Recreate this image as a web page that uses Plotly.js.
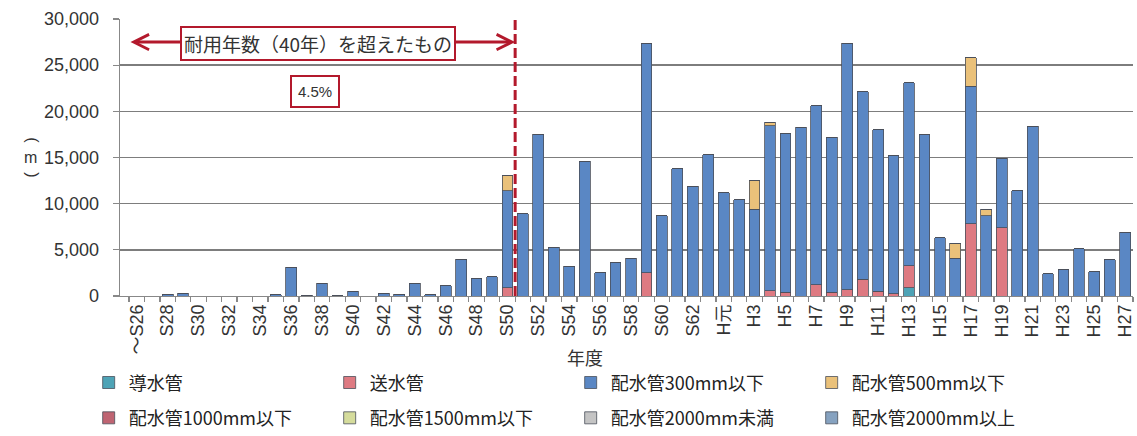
<!DOCTYPE html>
<html lang="ja">
<head>
<meta charset="utf-8">
<script src="https://cdn.plot.ly/plotly-3.0.1.min.js"></script>
<style>
  html, body { margin: 0; padding: 0; background: #ffffff; }
  #chart { width: 1137px; height: 436px; }
</style>
</head>
<body>
<div id="chart"></div>
<script>
// 布設年度（昭和26年以前〜平成27年）
const categories = [
  '～S26','S27','S28','S29','S30','S31','S32','S33','S34','S35',
  'S36','S37','S38','S39','S40','S41','S42','S43','S44','S45',
  'S46','S47','S48','S49','S50','S51','S52','S53','S54','S55',
  'S56','S57','S58','S59','S60','S61','S62','S63','H元','H2',
  'H3','H4','H5','H6','H7','H8','H9','H10','H11','H12',
  'H13','H14','H15','H16','H17','H18','H19','H20','H21','H22',
  'H23','H24','H25','H26','H27'
];

// 管種別の延長（m）
const doSuikan = [
  0,0,0,0,0,0,0,0,0,0,
  0,0,0,0,0,0,0,0,0,0,
  0,0,0,0,0,0,0,0,0,0,
  0,0,0,0,0,0,0,0,0,0,
  0,0,0,0,0,0,0,0,0,0,
  900,0,0,0,0,0,0,0,0,0,
  0,0,0,0,0
];
const soSuikan = [
  0,0,0,0,0,0,0,0,0,0,
  0,0,0,0,0,0,0,0,0,0,
  0,0,0,0,900,0,0,0,0,0,
  0,0,0,2500,0,0,0,0,0,0,
  0,550,400,0,1200,400,700,1800,500,250,
  2350,0,0,0,7800,0,7400,0,0,0,
  0,0,0,0,0
];
const haisui300 = [
  0,0,200,300,0,0,0,0,0,150,
  3100,100,1400,100,500,0,300,200,1400,150,
  1100,4000,1900,2100,10500,8900,17500,5300,3200,14600,
  2500,3600,4100,24800,8700,13800,11900,15300,11200,10400,
  9400,17900,17200,18300,19400,16800,26700,20300,17500,14950,
  19850,17500,6300,4100,14900,8700,7500,11400,18400,2400,
  2900,5100,2600,3900,6900
];
const haisui500 = [
  0,0,0,0,0,0,0,0,0,0,
  0,0,0,0,0,0,0,0,0,0,
  0,0,0,0,1600,0,0,0,0,0,
  0,0,0,0,0,0,0,0,0,0,
  3100,350,0,0,0,0,0,0,0,0,
  0,0,0,1600,3100,700,0,0,0,0,
  0,0,0,0,0
];
const haisui1000 = [
  0,0,0,0,0,0,0,0,0,0,
  0,0,0,0,0,0,0,0,0,0,
  0,0,0,0,0,0,0,0,0,0,
  0,0,0,0,0,0,0,0,0,0,
  0,0,0,0,0,0,0,0,0,0,
  0,0,0,0,0,0,0,0,0,0,
  0,0,0,0,0
];
const haisui1500 = [
  0,0,0,0,0,0,0,0,0,0,
  0,0,0,0,0,0,0,0,0,0,
  0,0,0,0,0,0,0,0,0,0,
  0,0,0,0,0,0,0,0,0,0,
  0,0,0,0,0,0,0,0,0,0,
  0,0,0,0,0,0,0,0,0,0,
  0,0,0,0,0
];
const haisui2000Under = [
  0,0,0,0,0,0,0,0,0,0,
  0,0,0,0,0,0,0,0,0,0,
  0,0,0,0,0,0,0,0,0,0,
  0,0,0,0,0,0,0,0,0,0,
  0,0,0,0,0,0,0,0,0,0,
  0,0,0,0,0,0,0,0,0,0,
  0,0,0,0,0
];
const haisui2000Over = [
  0,0,0,0,0,0,0,0,0,0,
  0,0,0,0,0,0,0,0,0,0,
  0,0,0,0,0,0,0,0,0,0,
  0,0,0,0,0,0,0,0,0,0,
  0,0,0,0,0,0,0,0,0,0,
  0,0,0,0,0,0,0,0,0,0,
  0,0,0,0,0
];

const seriesNames = [
  '導水管', '送水管', '配水管300mm以下', '配水管500mm以下',
  '配水管1000mm以下', '配水管1500mm以下', '配水管2000mm未満', '配水管2000mm以上'
];
const seriesValues = [
  doSuikan, soSuikan, haisui300, haisui500,
  haisui1000, haisui1500, haisui2000Under, haisui2000Over
];
const seriesColors = [
  '#4ea3b6', '#de7a82', '#5a87c4', '#eac17a',
  '#bf6472', '#d5dc9c', '#c4c4c4', '#86a2c0'
];

// 耐用年数（40年）の境目：S50 と S51 の間
const limitPos = categories.indexOf('S50') + 0.5;

// 一つおきに目盛りラベルを表示
const tickLabels = categories.map((c, i) => (i % 2 === 0 ? c : ''));

const FONT_LATIN = 'Liberation Sans, Noto Sans CJK JP, sans-serif';
const FONT_JP = 'Noto Sans CJK JP, Liberation Sans, sans-serif';
const RED = '#b3192c';

const traces = seriesNames.map((name, i) => ({
  type: 'bar',
  name: name,
  x: categories,
  y: seriesValues[i],
  marker: { color: seriesColors[i], line: { color: '#4a4f5a', width: 0.8 } },
  legend: i < 4 ? 'legend' : 'legend2',
  hoverinfo: 'x+y+name'
}));

const legendBase = {
  orientation: 'h',
  traceorder: 'normal',
  xref: 'container', yref: 'container',
  x: 0.078, xanchor: 'left', yanchor: 'middle',
  entrywidth: 196, entrywidthmode: 'pixels',
  font: { family: FONT_JP, size: 18, color: '#222' },
  bgcolor: 'rgba(0,0,0,0)',
  itemclick: false, itemdoubleclick: false
};

// 縦書きの単位表示「（m）」
const unitParts = [
  { text: '(', angle: 90, dy: 17 },
  { text: 'm', angle: 0, dy: 0 },
  { text: ')', angle: 90, dy: -17 }
];
const unitAnnotations = unitParts.map(p => ({
  xref: 'paper', yref: 'paper', x: -0.097, y: 0.5, yshift: p.dy,
  text: p.text, textangle: p.angle, showarrow: false,
  font: { family: FONT_LATIN, size: 16, color: '#333' }
}));

const layout = {
  width: 1137, height: 436,
  margin: { l: 120, r: 4, t: 19, b: 140 },
  paper_bgcolor: '#ffffff', plot_bgcolor: '#ffffff',
  barmode: 'stack',
  bargap: 0.3,
  font: { family: FONT_LATIN, size: 18, color: '#333' },
  xaxis: {
    type: 'category',
    categoryorder: 'array', categoryarray: categories,
    tickmode: 'array', tickvals: categories, ticktext: tickLabels,
    tickson: 'boundaries',
    ticks: 'outside', ticklen: 5, tickcolor: '#888', tickwidth: 1.3,
    tickangle: -90,
    tickfont: { family: FONT_LATIN, size: 18, color: '#333' },
    showline: true, linecolor: '#888', linewidth: 1.3,
    showgrid: false, zeroline: false, fixedrange: true
  },
  yaxis: {
    range: [0, 30000],
    tickmode: 'linear', tick0: 0, dtick: 5000,
    tickformat: ',d',
    ticks: 'outside', ticklen: 6, tickcolor: '#888', tickwidth: 1.3,
    ticklabelstandoff: 10,
    tickfont: { family: FONT_LATIN, size: 18, color: '#333' },
    showline: true, linecolor: '#888', linewidth: 1.3,
    showgrid: true, gridcolor: '#7d7d7d', gridwidth: 1.4,
    zeroline: false, fixedrange: true
  },
  legend: Object.assign({}, legendBase, { y: 0.122 }),
  legend2: Object.assign({}, legendBase, { y: 0.041 }),
  shapes: [{
    type: 'line', xref: 'x', yref: 'paper',
    x0: limitPos, x1: limitPos, y0: 0, y1: 1,
    line: { color: RED, width: 3, dash: '10px,4px' }
  }],
  annotations: [
    {
      // 耐用年数を超えた範囲を示す両矢印
      xref: 'x', yref: 'y', axref: 'x', ayref: 'y',
      x: limitPos, y: 27500, ax: -0.5, ay: 27500,
      text: '', showarrow: true,
      arrowside: 'end+start', arrowhead: 5, startarrowhead: 5,
      arrowsize: 1, startarrowsize: 1, arrowwidth: 3, arrowcolor: RED
    },
    {
      xref: 'x', yref: 'y', x: 11.75, y: 27400,
      text: '耐用年数（40年）を超えたもの', showarrow: false,
      font: { family: FONT_JP, size: 19, color: '#333' },
      bgcolor: '#ffffff', bordercolor: RED, borderwidth: 2, borderpad: 2
    },
    {
      xref: 'x', yref: 'y', x: 11.55, y: 22100,
      text: '4.5%', showarrow: false,
      font: { family: FONT_LATIN, size: 15, color: '#333' },
      bgcolor: '#ffffff', bordercolor: RED, borderwidth: 2, borderpad: 6
    },
    {
      xref: 'paper', yref: 'paper', x: 0.459, y: -0.22, yanchor: 'middle',
      text: '年度', showarrow: false,
      font: { family: FONT_JP, size: 18, color: '#333' }
    }
  ].concat(unitAnnotations),
  showlegend: true
};

Plotly.newPlot('chart', traces, layout, { displayModeBar: false, staticPlot: true });
</script>
</body>
</html>
